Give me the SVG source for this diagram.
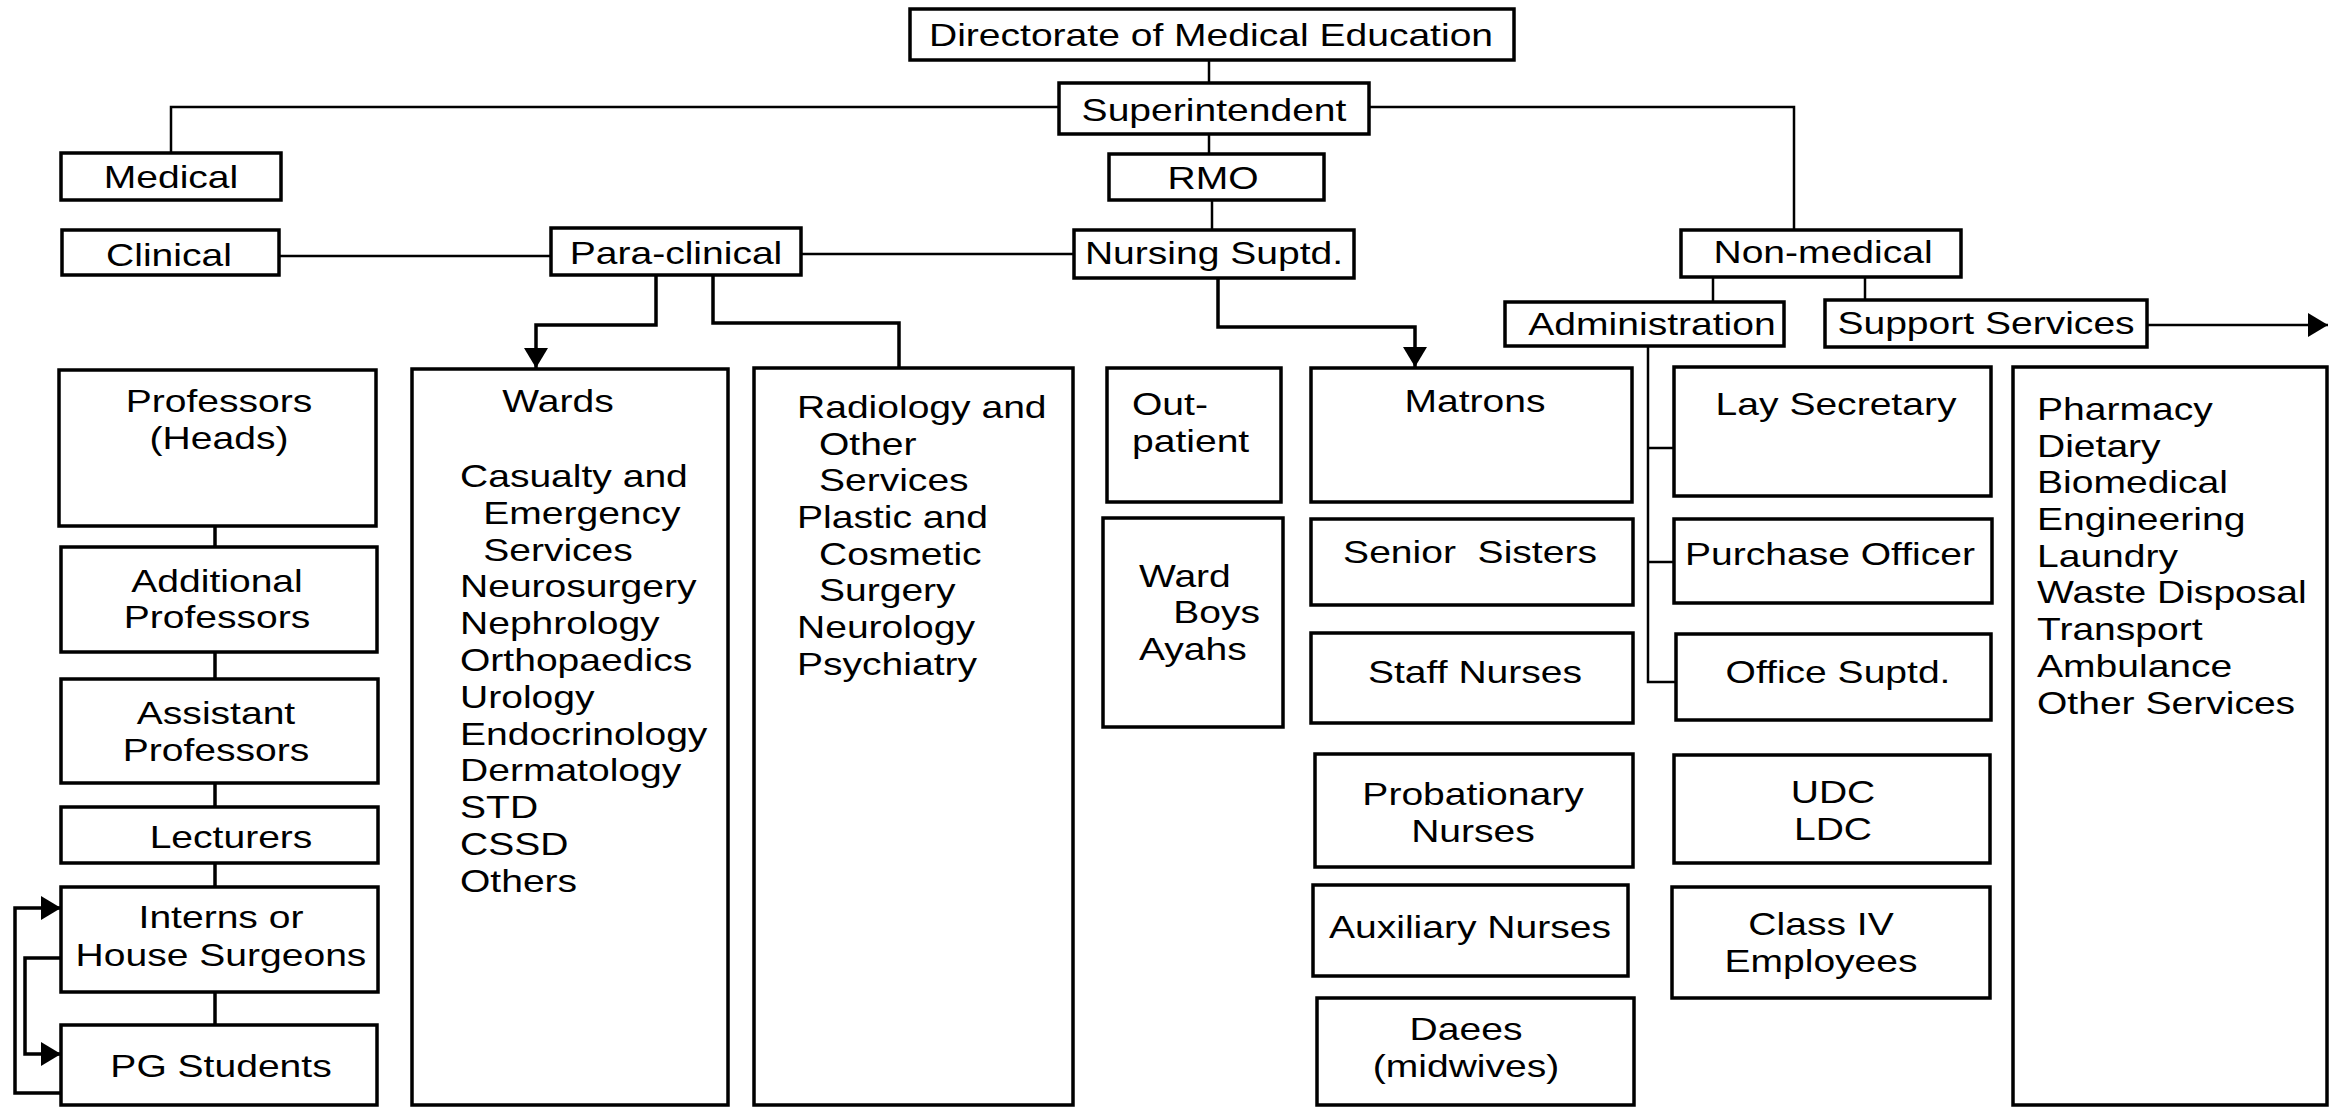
<svg xmlns="http://www.w3.org/2000/svg" width="2336" height="1107" viewBox="0 0 2336 1107">
<style>
  .box { fill: #fff; stroke: #000; stroke-width: 3.5; }
  .t { font-family: "Liberation Sans", Arial, sans-serif; font-size: 32px; fill: #000; text-anchor: middle; }
  .l { font-family: "Liberation Sans", Arial, sans-serif; font-size: 32px; fill: #000; text-anchor: start; }
  .c { fill: none; stroke: #000; stroke-width: 3.5; }
  .thin { fill: none; stroke: #000; stroke-width: 2.5; }
</style>
<defs>
  <marker id="arr" markerUnits="userSpaceOnUse" viewBox="0 0 20 24" refX="20" refY="12" markerWidth="20" markerHeight="24" orient="auto">
    <path d="M0,0 L20,12 L0,24 z" fill="#000"/>
  </marker>
</defs>
<rect width="2336" height="1107" fill="#fff"/>

<g id="connectors">
  <path class="thin" d="M1209,60 V83"/>
  <path class="thin" d="M1209,134 V154"/>
  <path class="thin" d="M1212,200 V230"/>
  <path class="thin" d="M1059,107 H171 V153"/>
  <path class="thin" d="M1369,107 H1794 V230"/>
  <path class="thin" d="M279,256 H551"/>
  <path class="thin" d="M801,254 H1074"/>
  <path class="c" d="M656,275 V325 H536 V368" marker-end="url(#arr)"/>
  <path class="c" d="M713,275 V323 H899 V368"/>
  <path class="c" d="M1218,278 V327 H1415 V367" marker-end="url(#arr)"/>
  <path class="thin" d="M1713,277 V302"/>
  <path class="thin" d="M1865,277 V300"/>
  <path class="thin" d="M2147,325 H2328" marker-end="url(#arr)"/>
  <path class="thin" d="M1648,346 V682 H1676"/>
  <path class="thin" d="M1648,448 H1674"/>
  <path class="thin" d="M1648,562 H1674"/>
  <path class="c" d="M215,526 V547"/>
  <path class="c" d="M215,652 V679"/>
  <path class="c" d="M215,783 V807"/>
  <path class="c" d="M215,863 V887"/>
  <path class="c" d="M215,992 V1025"/>
  <path class="c" d="M61,1093 H15 V908 H61" marker-end="url(#arr)"/>
  <path class="c" d="M61,958 H25 V1054 H61" marker-end="url(#arr)"/>
</g>

<g id="directorate">
  <rect class="box" x="910" y="9" width="604" height="51"/>
  <text class="t" transform="translate(1211 46) scale(1.22 1)">Directorate of Medical Education</text>
</g>
<g id="superintendent">
  <rect class="box" x="1059" y="83" width="310" height="51"/>
  <text class="t" transform="translate(1214 121) scale(1.22 1)">Superintendent</text>
</g>
<g id="rmo">
  <rect class="box" x="1109" y="154" width="215" height="46"/>
  <text class="t" transform="translate(1213 189) scale(1.22 1)">RMO</text>
</g>
<g id="medical">
  <rect class="box" x="61" y="153" width="220" height="47"/>
  <text class="t" transform="translate(171 188) scale(1.22 1)">Medical</text>
</g>
<g id="clinical">
  <rect class="box" x="62" y="230" width="217" height="45"/>
  <text class="t" transform="translate(169 266) scale(1.22 1)">Clinical</text>
</g>
<g id="paraclinical">
  <rect class="box" x="551" y="228" width="250" height="47"/>
  <text class="t" transform="translate(676 264) scale(1.22 1)">Para-clinical</text>
</g>
<g id="nursing-suptd">
  <rect class="box" x="1074" y="230" width="280" height="48"/>
  <text class="t" transform="translate(1214 264) scale(1.22 1)">Nursing Suptd.</text>
</g>
<g id="non-medical">
  <rect class="box" x="1681" y="230" width="280" height="47"/>
  <text class="t" transform="translate(1823 263) scale(1.22 1)">Non-medical</text>
</g>
<g id="administration">
  <rect class="box" x="1505" y="302" width="279" height="44"/>
  <text class="t" transform="translate(1652 335) scale(1.22 1)">Administration</text>
</g>
<g id="support-services">
  <rect class="box" x="1825" y="300" width="322" height="47"/>
  <text class="t" transform="translate(1986 334) scale(1.22 1)">Support Services</text>
</g>

<g id="professors">
  <rect class="box" x="59" y="370" width="317" height="156"/>
  <text class="t" transform="translate(219 412) scale(1.22 1)"><tspan x="0" y="0">Professors</tspan><tspan x="0" dy="36.7">(Heads)</tspan></text>
</g>
<g id="additional-professors">
  <rect class="box" x="61" y="547" width="316" height="105"/>
  <text class="t" transform="translate(217 592) scale(1.22 1)"><tspan x="0" y="0">Additional</tspan><tspan x="0" dy="36">Professors</tspan></text>
</g>
<g id="assistant-professors">
  <rect class="box" x="61" y="679" width="317" height="104"/>
  <text class="t" transform="translate(216 724) scale(1.22 1)"><tspan x="0" y="0">Assistant</tspan><tspan x="0" dy="37">Professors</tspan></text>
</g>
<g id="lecturers">
  <rect class="box" x="61" y="807" width="317" height="56"/>
  <text class="t" transform="translate(231 848) scale(1.22 1)">Lecturers</text>
</g>
<g id="interns">
  <rect class="box" x="61" y="887" width="317" height="105"/>
  <text class="t" transform="translate(221 928) scale(1.22 1)"><tspan x="0" y="0">Interns or</tspan><tspan x="0" dy="38">House Surgeons</tspan></text>
</g>
<g id="pg-students">
  <rect class="box" x="61" y="1025" width="316" height="80"/>
  <text class="t" transform="translate(221 1077) scale(1.22 1)">PG Students</text>
</g>

<g id="wards">
  <rect class="box" x="412" y="369" width="316" height="736"/>
  <text class="t" transform="translate(558 412) scale(1.22 1)">Wards</text>
  <text class="l" transform="translate(460 487) scale(1.22 1)"><tspan x="0" y="0">Casualty and</tspan><tspan x="19" dy="36.8">Emergency</tspan><tspan x="19" dy="36.8">Services</tspan><tspan x="0" dy="36.8">Neurosurgery</tspan><tspan x="0" dy="36.8">Nephrology</tspan><tspan x="0" dy="36.8">Orthopaedics</tspan><tspan x="0" dy="36.8">Urology</tspan><tspan x="0" dy="36.8">Endocrinology</tspan><tspan x="0" dy="36.8">Dermatology</tspan><tspan x="0" dy="36.8">STD</tspan><tspan x="0" dy="36.8">CSSD</tspan><tspan x="0" dy="36.8">Others</tspan></text>
</g>
<g id="radiology">
  <rect class="box" x="754" y="368" width="319" height="737"/>
  <text class="l" transform="translate(797 418) scale(1.22 1)"><tspan x="0" y="0">Radiology and</tspan><tspan x="18" dy="36.7">Other</tspan><tspan x="18" dy="36.7">Services</tspan><tspan x="0" dy="36.7">Plastic and</tspan><tspan x="18" dy="36.7">Cosmetic</tspan><tspan x="18" dy="36.7">Surgery</tspan><tspan x="0" dy="36.7">Neurology</tspan><tspan x="0" dy="36.7">Psychiatry</tspan></text>
</g>
<g id="out-patient">
  <rect class="box" x="1107" y="368" width="174" height="134"/>
  <text class="l" transform="translate(1132 415) scale(1.22 1)"><tspan x="0" y="0">Out-</tspan><tspan x="0" dy="37">patient</tspan></text>
</g>
<g id="ward-boys">
  <rect class="box" x="1103" y="518" width="180" height="209"/>
  <text class="l" transform="translate(1139 587) scale(1.22 1)"><tspan x="0" y="0">Ward</tspan><tspan x="28" dy="36.5">Boys</tspan><tspan x="0" dy="36.5">Ayahs</tspan></text>
</g>

<g id="matrons">
  <rect class="box" x="1311" y="368" width="321" height="134"/>
  <text class="t" transform="translate(1475 412) scale(1.22 1)">Matrons</text>
</g>
<g id="senior-sisters">
  <rect class="box" x="1311" y="519" width="322" height="86"/>
  <text class="t" xml:space="preserve" style="white-space:pre" transform="translate(1470 563) scale(1.22 1)">Senior  Sisters</text>
</g>
<g id="staff-nurses">
  <rect class="box" x="1311" y="633" width="322" height="90"/>
  <text class="t" transform="translate(1475 683) scale(1.22 1)">Staff Nurses</text>
</g>
<g id="probationary-nurses">
  <rect class="box" x="1315" y="754" width="318" height="113"/>
  <text class="t" transform="translate(1473 805) scale(1.22 1)"><tspan x="0" y="0">Probationary</tspan><tspan x="0" dy="37">Nurses</tspan></text>
</g>
<g id="auxiliary-nurses">
  <rect class="box" x="1313" y="885" width="315" height="91"/>
  <text class="t" transform="translate(1470 938) scale(1.22 1)">Auxiliary Nurses</text>
</g>
<g id="daees">
  <rect class="box" x="1317" y="998" width="317" height="107"/>
  <text class="t" transform="translate(1466 1040) scale(1.22 1)"><tspan x="0" y="0">Daees</tspan><tspan x="0" dy="37">(midwives)</tspan></text>
</g>

<g id="lay-secretary">
  <rect class="box" x="1674" y="367" width="317" height="129"/>
  <text class="t" transform="translate(1836 415) scale(1.22 1)">Lay Secretary</text>
</g>
<g id="purchase-officer">
  <rect class="box" x="1674" y="519" width="318" height="84"/>
  <text class="t" transform="translate(1830 565) scale(1.22 1)">Purchase Officer</text>
</g>
<g id="office-suptd">
  <rect class="box" x="1676" y="634" width="315" height="86"/>
  <text class="t" transform="translate(1838 683) scale(1.22 1)">Office Suptd.</text>
</g>
<g id="udc-ldc">
  <rect class="box" x="1674" y="755" width="316" height="108"/>
  <text class="t" transform="translate(1833 803) scale(1.22 1)"><tspan x="0" y="0">UDC</tspan><tspan x="0" dy="37">LDC</tspan></text>
</g>
<g id="class-iv">
  <rect class="box" x="1672" y="887" width="318" height="111"/>
  <text class="t" transform="translate(1821 935) scale(1.22 1)"><tspan x="0" y="0">Class IV</tspan><tspan x="0" dy="37">Employees</tspan></text>
</g>

<g id="support-list">
  <rect class="box" x="2013" y="367" width="314" height="738"/>
  <text class="l" transform="translate(2037 420) scale(1.22 1)"><tspan x="0" y="0">Pharmacy</tspan><tspan x="0" dy="36.7">Dietary</tspan><tspan x="0" dy="36.7">Biomedical</tspan><tspan x="0" dy="36.7">Engineering</tspan><tspan x="0" dy="36.7">Laundry</tspan><tspan x="0" dy="36.7">Waste Disposal</tspan><tspan x="0" dy="36.7">Transport</tspan><tspan x="0" dy="36.7">Ambulance</tspan><tspan x="0" dy="36.7">Other Services</tspan></text>
</g>
</svg>
